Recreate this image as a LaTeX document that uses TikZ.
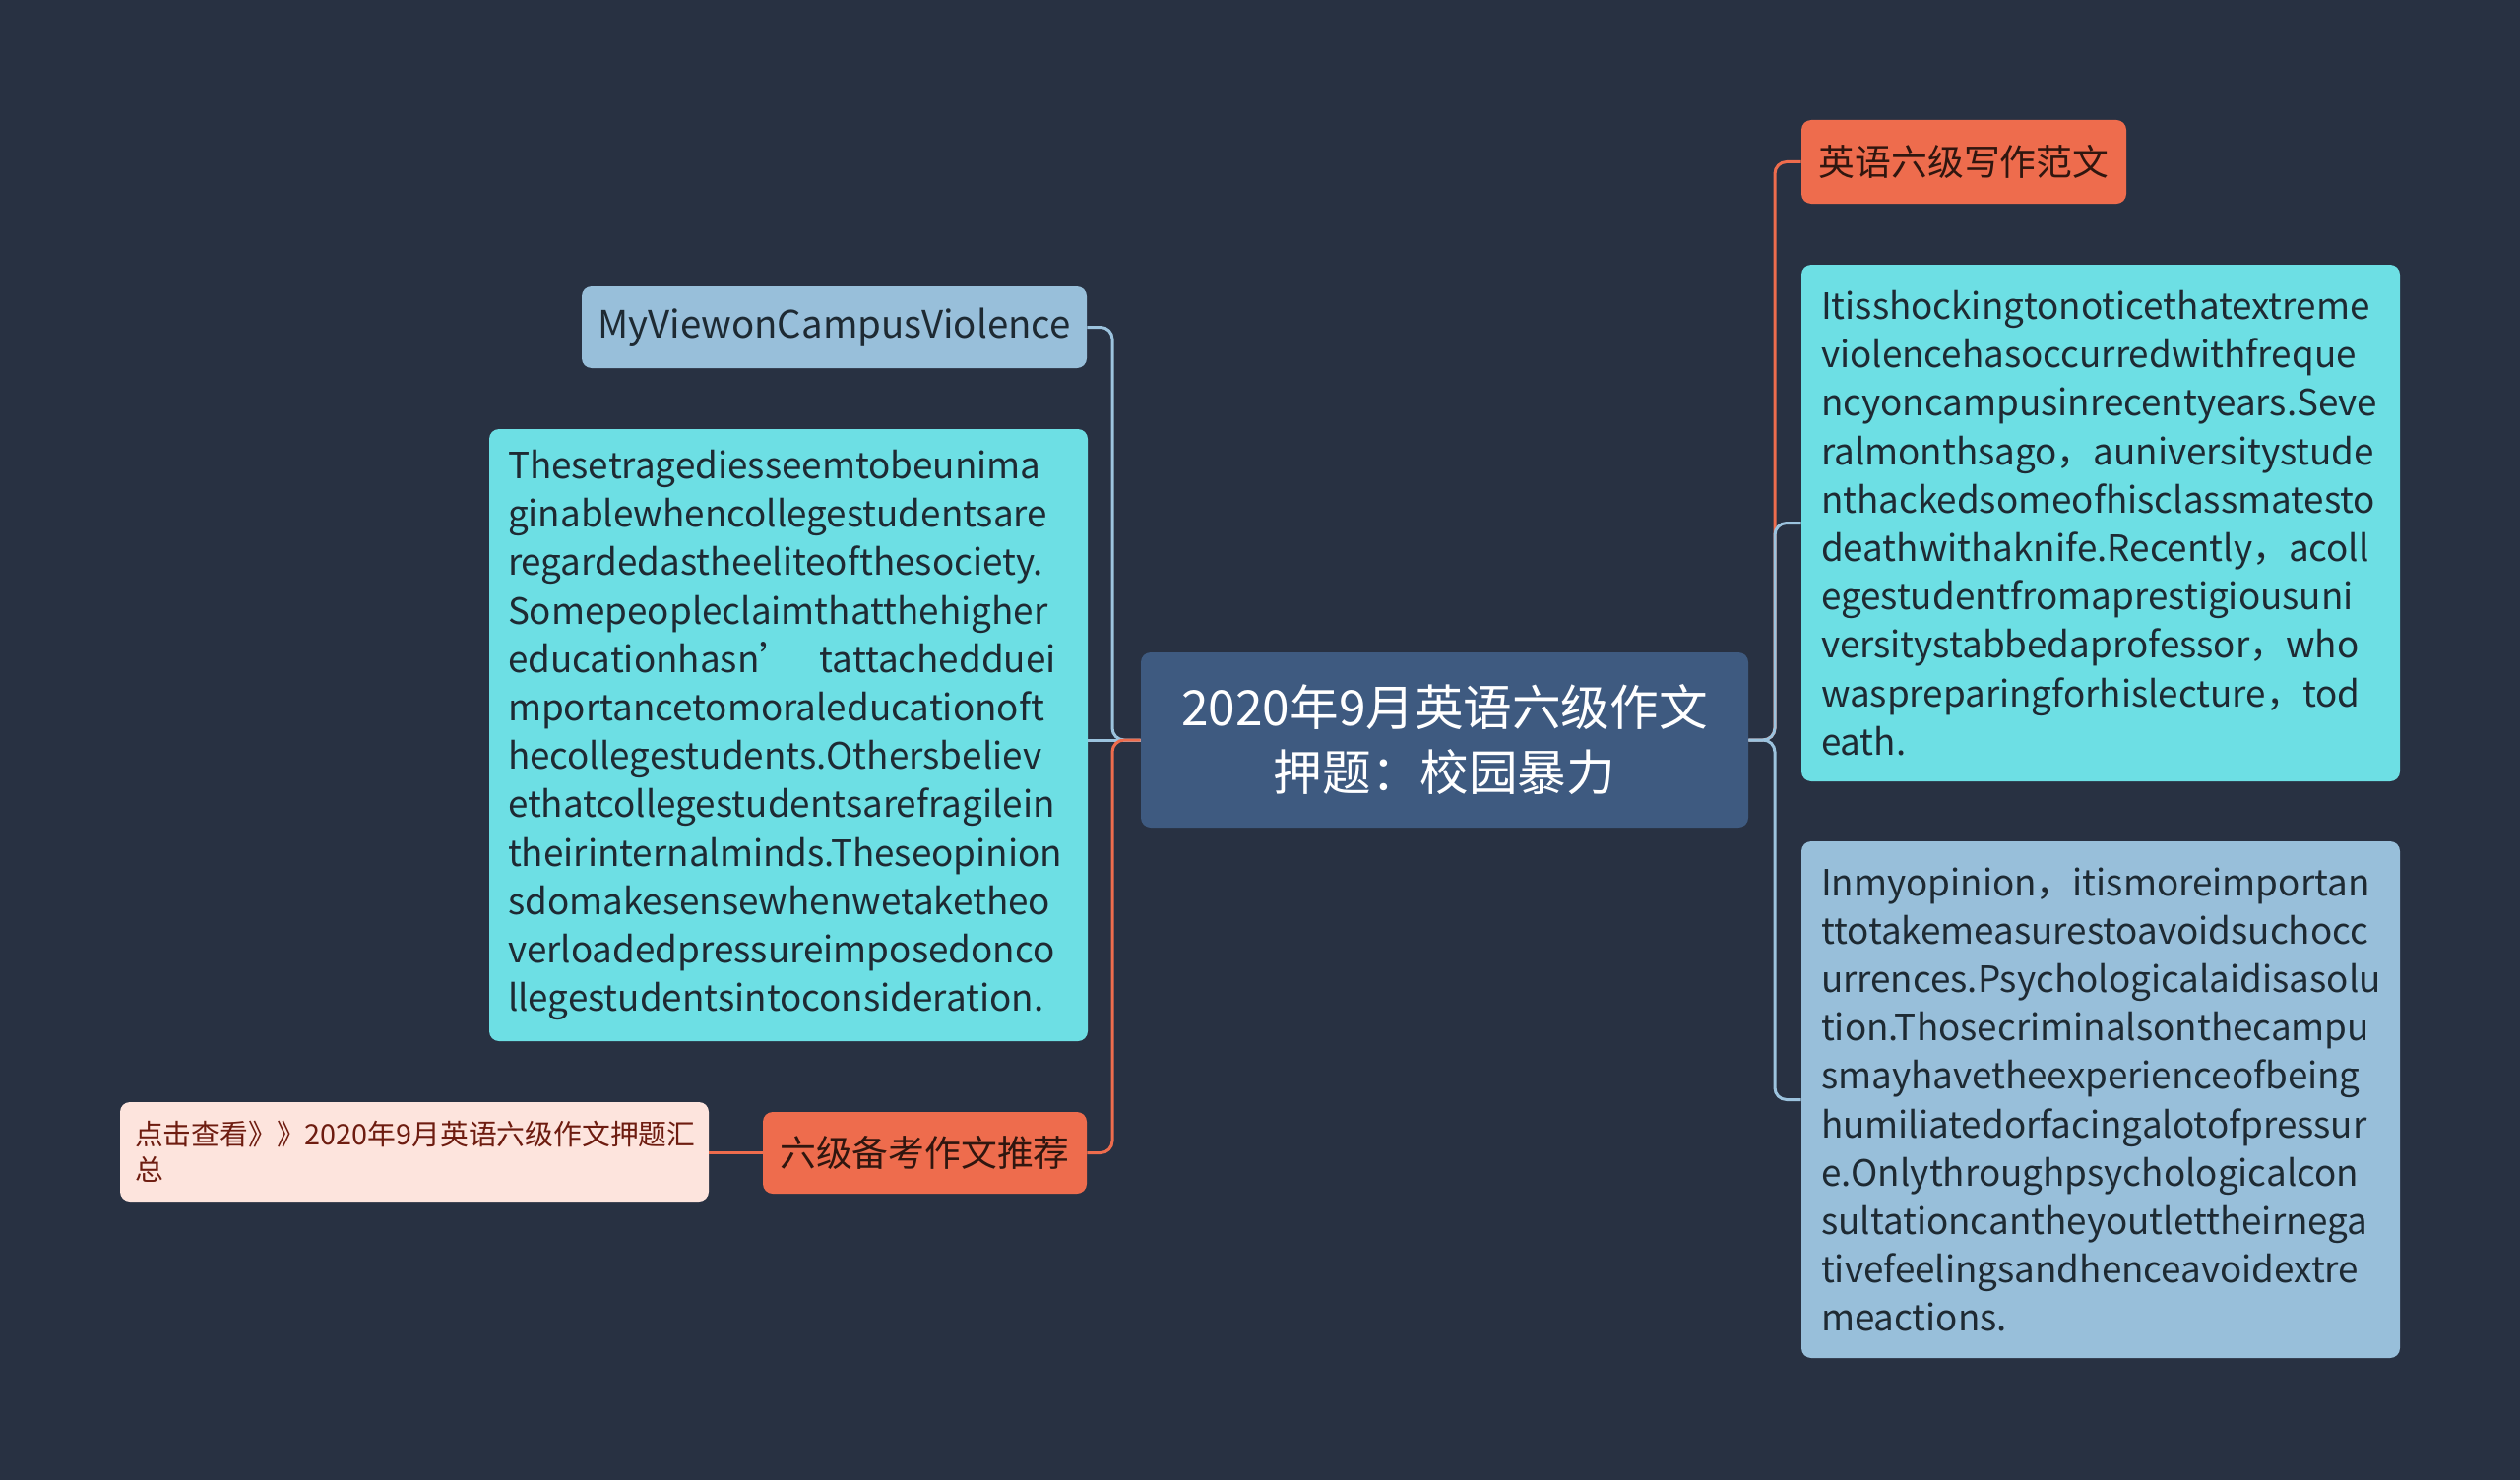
\documentclass[tikz,border=0pt]{standalone}
\usepackage{fontspec}
\setmainfont{Noto Sans CJK SC}
\usetikzlibrary{positioning}
\definecolor{bg}{HTML}{283142}
\definecolor{rootc}{HTML}{3E5A80}
\definecolor{cyanc}{HTML}{6DDFE4}
\definecolor{skyc}{HTML}{98BFDA}
\definecolor{orac}{HTML}{EE6C4D}
\definecolor{pinkc}{HTML}{FDE4DD}
\definecolor{ink}{HTML}{1E2A33}
\definecolor{brown}{HTML}{6E1C10}
\definecolor{blinkc}{HTML}{9CC3DE}
\definecolor{olinkc}{HTML}{E2694B}

\begin{document}
\begin{tikzpicture}[x=0.5pt,y=-0.5pt,
  box/.style={rounded corners=5pt,inner sep=0pt,text=ink},
  para/.style={box,align=left,inner xsep=9.5pt,text width=285pt,
    font=\fontsize{18.4}{24.6}\selectfont},
  tag/.style={box,align=center,font=\fontsize{18.4}{22}\selectfont},
  blink/.style={draw=blinkc,line width=1.5pt,rounded corners=6pt},
  olink/.style={draw=orac,line width=1.5pt,rounded corners=6pt}]
 \useasboundingbox[fill=bg] (0,0) rectangle (2560,1504);
 % centre
 \node (rt) at (1467.5,752)[box,fill=rootc,text=white,align=center,
   minimum width=308.5pt,minimum height=89pt,
   font=\fontsize{24.8}{33}\selectfont] {2020年9月英语六级作文\\押题：校园暴力};
 % left
 \node (mv) at (847.5,332.5)[tag,fill=skyc,minimum width=256.5pt,
   minimum height=41.5pt,font=\fontsize{19.2}{22}\selectfont] {MyViewonCampusViolence};
 \node (td) at (801,747)[para,fill=cyanc,minimum height=311pt]
   {Thesetragediesseemtobeunima\\ginablewhencollegestudentsare\\
    regardedastheeliteofthesociety.\\Somepeopleclaimthatthehigher\\
    educationhasn’\ \ tattachedduei\\mportancetomoraleducationoft\\
    hecollegestudents.Othersbeliev\\ethatcollegestudentsarefragilein\\
    theirinternalminds.Theseopinion\\sdomakesensewhenwetaketheo\\
    verloadedpressureimposedonco\\llegestudentsintoconsideration.};
 \node (bk) at (939.5,1171.5)[tag,fill=orac,text=black!80!orac,
   minimum width=164.5pt,minimum height=41.5pt] {六级备考作文推荐};
 \node (dj) at (421,1170.5)[box,fill=pinkc,text=brown,align=left,
   inner xsep=7.5pt,text width=284pt,minimum height=50.5pt,
   font=\fontsize{14.4}{18}\selectfont] {点击查看》》2020年9月英语六级作文押题汇\\总};
 % right
 \node (yy) at (1995,164.5)[tag,fill=orac,text=black!80!orac,
   minimum width=165pt,minimum height=42.5pt] {英语六级写作范文};
 \node (it) at (2134,531.5)[para,fill=cyanc,inner xsep=10pt,text width=284pt,
   minimum height=262.5pt]
   {Itisshockingtonoticethatextreme\\violencehasoccurredwithfreque\\
    ncyoncampusinrecentyears.Seve\\ralmonthsago，auniversitystude\\
    nthackedsomeofhisclassmatesto\\deathwithaknife.Recently，acoll\\
    egestudentfromaprestigiousuni\\versitystabbedaprofessor，who\\
    waspreparingforhislecture，tod\\eath.};
 \node (io) at (2134,1117.5)[para,fill=skyc,inner xsep=10pt,text width=284pt,
   minimum height=262.5pt]
   {Inmyopinion，itismoreimportan\\ttotakemeasurestoavoidsuchocc\\
    urrences.Psychologicalaidisasolu\\tion.Thosecriminalsonthecampu\\
    smayhavetheexperienceofbeing\\humiliatedorfacingalotofpressur\\
    e.Onlythroughpsychologicalcon\\sultationcantheyoutlettheirnega\\
    tivefeelingsandhenceavoidextre\\meactions.};
 % links
 \coordinate (lx) at (1130,0);
 \coordinate (rx) at (1803,0);
 \draw[blink] (rt.west) -- (lx |- rt.west) |- (mv.east);
 \draw[blink] (rt.west) -- (td.east |- rt.west);
 \draw[olink] (rt.west) -- (lx |- rt.west) |- (bk.east);
 \draw[olink] (bk.west) -- (dj.east |- bk.west);
 \draw[olink] (rt.east) -- (rx |- rt.east) |- (yy.west);
 \draw[blink] (rt.east) -- (rx |- rt.east) |- (it.west);
 \draw[blink] (rt.east) -- (rx |- rt.east) |- (io.west);
\end{tikzpicture}
\end{document}
